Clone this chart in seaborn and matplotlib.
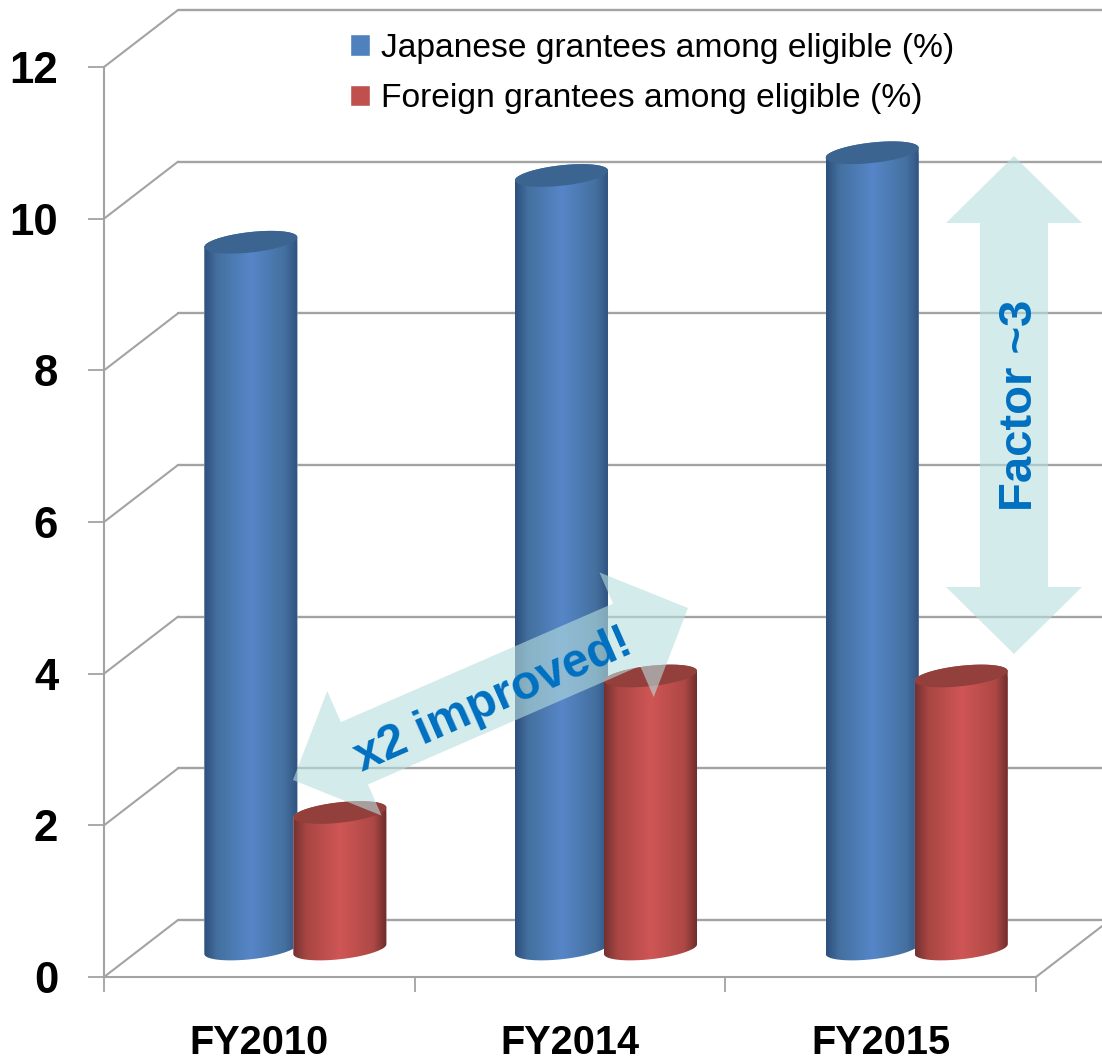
import numpy as np
import pandas as pd
import seaborn as sns
import matplotlib.pyplot as plt
from matplotlib.colors import LinearSegmentedColormap
from matplotlib.patches import ConnectionPatch, PathPatch, Polygon
from matplotlib.path import Path

# Values
years = ["FY2010", "FY2014", "FY2015"]
japanese = [9.32, 10.2, 10.5]
foreign = [1.8, 3.6, 3.6]
japanese_label = "Japanese grantees among eligible (%)"
foreign_label = "Foreign grantees among eligible (%)"
y_ticks = [0, 2, 4, 6, 8, 10, 12]

WIDTH, HEIGHT = 1102, 1057
GREY = "#a3a3a3"
NOTE_BLUE = "#0070c0"

# edge, shoulder, centre, shoulder, edge
BLUE_SHADES = ["#2d4f7c", "#44709f", "#5686c8", "#44709f", "#30527f"]
RED_SHADES = ["#723130", "#a84643", "#cf5655", "#ad4845", "#6b2c2b"]
BLUE_CAP = "#3b6490"
RED_CAP = "#933f3b"


def pixel_box(left, top, right, bottom):
    """Figure fraction rectangle from image pixel edges."""
    return [left / WIDTH, 1 - bottom / HEIGHT, (right - left) / WIDTH, (bottom - top) / HEIGHT]


def tilted_ellipse(cx, half_w, cy, start, stop):
    """Points on the slanted cylinder end, in data units."""
    t = np.linspace(start, stop, 60)
    return np.column_stack([cx + half_w * np.cos(t), cy + 0.135 * np.sin(t) + 0.065 * np.cos(t)])


def draw_cylinders(ax, container, shades, cap_color, order):
    cmap = LinearSegmentedColormap.from_list("shade", list(zip([0, 0.14, 0.5, 0.86, 1], shades)))
    for bar in container:
        x0, w, h = bar.get_x(), bar.get_width(), bar.get_height()
        cx = x0 + w / 2
        outline = np.vstack([
            tilted_ellipse(cx, w / 2, 0, np.pi, 2 * np.pi),
            tilted_ellipse(cx, w / 2, h, 0, np.pi),
        ])
        body = PathPatch(Path(np.vstack([outline, outline[:1]])), fc="none", ec="none", zorder=order)
        ax.add_patch(body)
        bar.set_zorder(order)
        bar.set_clip_path(body)
        bar.set_clip_box(ax.figure.bbox)
        shade = ax.imshow(np.linspace(0, 1, 256)[None, :], cmap=cmap, aspect="auto",
                          extent=(x0, x0 + w, -1, h + 1), zorder=order + 0.1,
                          interpolation="bilinear")
        shade.set_clip_path(body)
        shade.set_clip_box(ax.figure.bbox)
        ax.add_patch(Polygon(tilted_ellipse(cx, w / 2, h, 0, 2 * np.pi), fc=cap_color, ec="none",
                             zorder=order + 0.2, clip_on=False))


def double_arrow(ax, start, end, head_len=67, head_half=68, shaft_half=34):
    start, end = np.array(start, float), np.array(end, float)
    along = (end - start) / np.linalg.norm(end - start)
    side = np.array([-along[1], along[0]])
    a, b = start + along * head_len, end - along * head_len
    pts = [start, a + side * head_half, a + side * shaft_half, b + side * shaft_half,
           b + side * head_half, end, b - side * head_half, b - side * shaft_half,
           a - side * shaft_half, a - side * head_half]
    ax.add_patch(Polygon(pts, fc="#b7dfdf", ec="none", alpha=0.6))


sns.set_theme(style="white")
plt.rcParams["font.family"] = ["Liberation Sans", "DejaVu Sans"]

df = pd.DataFrame({
    "year": years * 2,
    "share": japanese + foreign,
    "group": [japanese_label] * len(years) + [foreign_label] * len(years),
})

fig = plt.figure(figsize=(WIDTH / 100, HEIGHT / 100), dpi=100)

# back wall and floor
ax_back = fig.add_axes(pixel_box(178, 10, WIDTH, 920), zorder=1)
ax_back.set_ylim(0, 12)
ax_back.set_yticks(y_ticks)
ax_back.set_xticks([])
ax_back.tick_params(left=False, labelleft=False)
ax_back.grid(axis="y", color=GREY, lw=1.7)
for line in ax_back.get_ygridlines():
    line.set_clip_on(False)
sns.despine(ax=ax_back, left=True, bottom=True)
ax_back.patch.set_alpha(0)

# front axis with the ticks and labels
ax = fig.add_axes(pixel_box(104, 67, 1036, 977), zorder=2)
ax.patch.set_alpha(0)
ax.set_xlim(-0.5, len(years) - 0.5)
ax.set_ylim(0, 12)
ax.set_yticks(y_ticks)
ax.set_xticks(range(len(years)), years)
ax.set_xticks(np.arange(len(years) + 1) - 0.5, minor=True)
ax.tick_params(axis="y", left=True, length=11.5, width=1.3, color=GREY, pad=21.5, labelsize=31.5)
ax.tick_params(axis="x", which="major", bottom=False, pad=27.5, labelsize=28.5)
ax.tick_params(axis="x", which="minor", bottom=True, length=11, width=1.3, color=GREY)
for label in ax.get_xticklabels() + ax.get_yticklabels():
    label.set_fontweight("bold")
    label.set_color("black")
sns.despine(ax=ax)
for side in ["left", "bottom"]:
    ax.spines[side].set_color(GREY)
    ax.spines[side].set_linewidth(1.5)

# wall corners joining the front axis to the back grid
for v in y_ticks:
    fig.add_artist(ConnectionPatch(xyA=(-0.5, v), coordsA=ax.transData,
                                   xyB=(0, v), coordsB=ax_back.get_yaxis_transform(),
                                   color=GREY, lw=1.5, zorder=1.5))
fig.add_artist(ConnectionPatch(xyA=(len(years) - 0.5, 0), coordsA=ax.transData,
                               xyB=(1110, HEIGHT - 920), coordsB="figure pixels",
                               color=GREY, lw=1.5, zorder=1.5))

# bars stand half way into the depth of the floor, neighbours overlap a little
ax_bar = fig.add_axes(pixel_box(140, 39, 1072, 949), zorder=3)
sns.barplot(data=df, x="year", y="share", hue="group", hue_order=[japanese_label, foreign_label],
            palette=["#4f81bd", "#c0504d"], saturation=1, width=0.573, gap=-0.045, ax=ax_bar)
ax_bar.set_xlim(-0.5, len(years) - 0.5)
ax_bar.set_ylim(0, 12)
handles, labels = ax_bar.get_legend_handles_labels()
draw_cylinders(ax_bar, ax_bar.containers[0], BLUE_SHADES, BLUE_CAP, 3)
draw_cylinders(ax_bar, ax_bar.containers[1], RED_SHADES, RED_CAP, 4)
ax_bar.set_xlim(-0.5, len(years) - 0.5)
ax_bar.set_ylim(0, 12)
ax_bar.axis("off")
ax_bar.legend(handles, labels, loc="upper left", bbox_to_anchor=(350 / WIDTH, 1 - 33 / HEIGHT),
              bbox_transform=fig.transFigure, frameon=False, fontsize=24.2, borderpad=0,
              borderaxespad=0, handlelength=0.6, handleheight=0.6, handletextpad=0.33,
              labelspacing=0.58, labelcolor="black")

# notes laid over the chart, in image pixels
ax_note = fig.add_axes([0, 0, 1, 1], zorder=4)
ax_note.set_xlim(0, WIDTH)
ax_note.set_ylim(HEIGHT, 0)
ax_note.axis("off")
double_arrow(ax_note, (1014, 156), (1014, 654))
double_arrow(ax_note, (293, 780), (688, 608))
ax_note.text(1020.5, 405, "Factor ~3", rotation=90, ha="center", va="center", fontsize=34,
             fontweight="bold", color=NOTE_BLUE)
ax_note.text(493, 700, "x2 improved!", rotation=23.7, rotation_mode="anchor", ha="center",
             va="center", fontsize=34.5, fontweight="bold", color=NOTE_BLUE)

fig.savefig("out.png", dpi=100)
